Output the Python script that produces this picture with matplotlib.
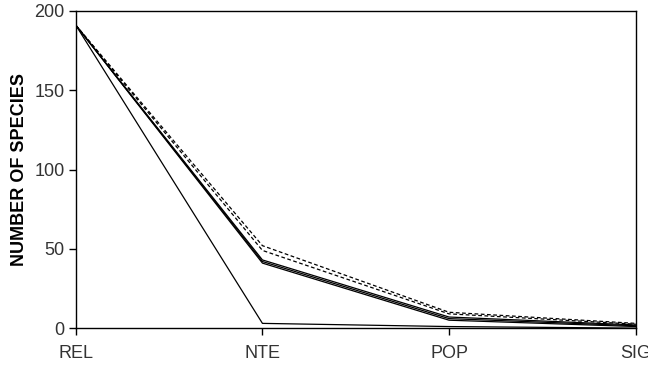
import matplotlib
matplotlib.use("Agg")
import matplotlib.pyplot as plt

plt.rcParams['font.family'] = ['Liberation Sans', 'DejaVu Sans']

categories = ["REL", "NTE", "POP", "SIG"]

# species counts per stage, one list per line
solid_1 = [191, 3, 1, 0]
solid_2 = [191, 41, 5, 1]
solid_3 = [191, 42, 6, 1.5]
solid_4 = [191, 43, 7, 2]
dashed_1 = [191, 49, 9, 2.5]
dashed_2 = [191, 52, 10, 3]

fig = plt.figure(figsize=(6.48, 3.65), dpi=100)
ax = fig.add_axes([0.117, 0.101, 0.864, 0.869])

x = range(len(categories))
for ys in (solid_1, solid_2, solid_3, solid_4):
    ax.plot(x, ys, color='black', linewidth=0.9, linestyle='-')
for ys in (dashed_1, dashed_2):
    ax.plot(x, ys, color='black', linewidth=0.9, linestyle=(0, (3, 2)))

ax.set_xlim(0, 3)
ax.set_ylim(0, 200)
ax.set_xticks(list(x))
ax.set_xticklabels(categories)
ax.set_yticks([0, 50, 100, 150, 200])
ax.tick_params(direction='out', length=5, width=1, labelsize=13, pad=3,
               colors='black', labelcolor='#333333')
ax.tick_params(axis='x', pad=7)
ax.set_ylabel('NUMBER OF SPECIES', fontsize=13, fontweight='bold', labelpad=5)
for s in ax.spines.values():
    s.set_linewidth(1.0)

fig.savefig('out.png', dpi=100)
